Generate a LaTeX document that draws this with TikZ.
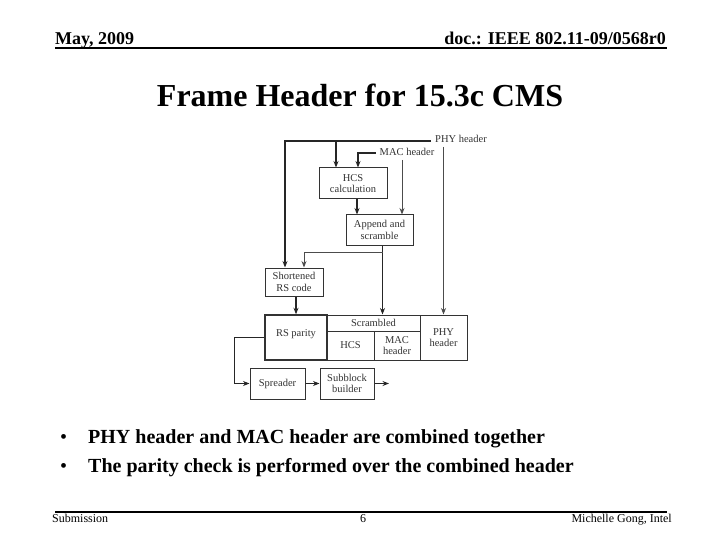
\documentclass[tikz,border=0pt]{standalone}
\usepackage{fontspec}
\setmainfont{Liberation Serif}
\usetikzlibrary{arrows.meta,positioning}

\tikzset{
  box/.style={draw=black!80, line width=1pt, fill=white, inner sep=0pt,
    align=center, text=black!80, font=\fontsize{10.5}{11.5}\selectfont},
  lbl/.style={inner sep=0pt, text=black!80, font=\fontsize{10.5}{11.5}\selectfont},
  thk/.style={draw=black!85, line width=1.5pt},
  thn/.style={draw=black!70, line width=0.9pt},
  tip/.style={-{Stealth[length=6.5pt,width=5pt]}}
}

\begin{document}
\begin{tikzpicture}[x=1pt, y=-1pt, >=Stealth]
    \useasboundingbox (0,0) rectangle (720,540);

    % slide header
    \node[anchor=base west, inner sep=0pt, font=\bfseries\fontsize{18}{20}\selectfont] (date) at (55,45) {May, 2009};
    \node[anchor=base east, inner sep=0pt, font=\bfseries\fontsize{18}{20}\selectfont] (doc) at (666,45) {doc.: IEEE 802.11-09/0568r0};
    \draw[line width=2pt] (55,48.5) -- (667,48.5);

    % title
    \node[anchor=base, inner sep=0pt, font=\bfseries\fontsize{32}{36}\selectfont] (title) at (360,107) {Frame Header for 15.3c CMS};

    % input labels
    \node[lbl] (phylbl) at (461,139) {PHY header};
    \node[lbl] (maclbl) at (407,152) {MAC header};

    % processing blocks
    \node[box, minimum width=68pt, minimum height=31pt] (hcs) at (353,183.5) {HCS\\calculation};
    \node[box, minimum width=67pt, minimum height=30pt] (app) at (379.5,230) {Append and\\scramble};
    \node[box, minimum width=58pt, minimum height=28pt] (srs) at (294,282) {Shortened\\RS code};

    % combined frame header
    \node[box, minimum width=62pt, minimum height=45pt, text depth=9pt, line width=1.4pt] (rsp) at (296,337.5) {RS parity};
    \node[box, minimum width=93pt, minimum height=16pt] (scr) at (373.5,323) {Scrambled};
    \node[box, minimum width=47pt, minimum height=29pt] (hcsf) at (350.5,345.5) {HCS};
    \node[box, minimum width=46pt, minimum height=29pt] (macf) at (397,345.5) {MAC\\header};
    \node[box, minimum width=47pt, minimum height=45pt] (phyf) at (443.5,337.5) {PHY\\header};

    % output chain
    \node[box, minimum width=55pt, minimum height=31pt] (spr) at (277.5,383.5) {Spreader};
    \node[box, minimum width=54pt, minimum height=31pt] (sub) at (347,383.5) {Subblock\\builder};

    % PHY header paths
    \coordinate (phyL) at (285,141);
    \coordinate (phyB) at (336,141);
    \draw[thk, tip] ([xshift=-4pt]phylbl.west |- phyL) -- (phyL) -- (phyL |- srs.north);
    \draw[thk, tip] (phyB) -- (phyB |- hcs.north);
    \draw[thn, tip] (443.5,147) -- (phyf.north);

    % MAC header paths
    \coordinate (macL) at (358,153);
    \draw[thk, tip] ([xshift=-4pt]maclbl.west |- macL) -- (macL) -- (macL |- hcs.north);
    \draw[thn, tip] (402,160) -- (402,0 |- app.north);

    % HCS -> append
    \draw[thk, tip] (357,0 |- hcs.south) -- (357,0 |- app.north);

    % append -> scrambled and shortened RS
    \coordinate (appB) at (382.5,252);
    \draw[thk, tip] (382.5,0 |- app.south) -- (382.5,0 |- scr.north);
    \draw[thn, tip] (appB) -- (304,252) -- (304,0 |- srs.north);

    % RS code -> parity
    \draw[thk, tip] (296,0 |- srs.south) -- (rsp.north);

    % parity -> spreader -> subblock
    \draw[thk, tip] (rsp.west) -- ++(-30,0) |- (spr.west);
    \draw[thk, tip] (spr.east) -- (sub.west);
    \coordinate (out) at (389,383.5);
    \draw[thk, tip] (sub.east) -- (out);

    % bullets
    \node[anchor=base west, inner sep=0pt, font=\fontsize{20}{24}\selectfont] (b1) at (60,443) {•};
    \node[anchor=base west, inner sep=0pt, font=\bfseries\fontsize{20}{24}\selectfont] (t1) at (88,443) {PHY header and MAC header are combined together};
    \node[anchor=base west, inner sep=0pt, font=\fontsize{20}{24}\selectfont] (b2) at (60,472) {•};
    \node[anchor=base west, inner sep=0pt, font=\bfseries\fontsize{20}{24}\selectfont] (t2) at (88,472) {The parity check is performed over the combined header};

    % footer
    \draw[line width=2pt] (55,512) -- (667,512);
    \node[anchor=base west, inner sep=0pt, font=\fontsize{12}{14}\selectfont] (sbm) at (52,522) {Submission};
    \node[anchor=base, inner sep=0pt, font=\fontsize{12}{14}\selectfont] (pg) at (363,522) {6};
    \node[anchor=base east, inner sep=0pt, font=\fontsize{12}{14}\selectfont] (auth) at (672,522) {Michelle Gong, Intel};
\end{tikzpicture}
\end{document}
